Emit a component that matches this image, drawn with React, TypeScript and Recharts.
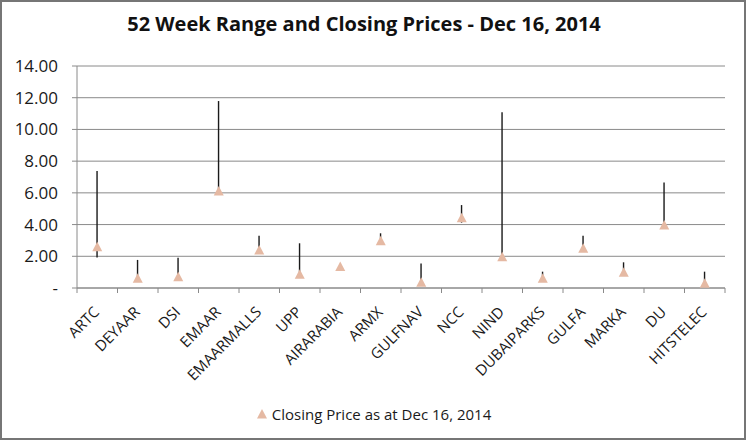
import React from "react";
import { ComposedChart, Bar, Line, XAxis, YAxis, CartesianGrid, Legend, Customized } from "recharts";

const TICKERS = [
  "ARTC", "DEYAAR", "DSI", "EMAAR", "EMAARMALLS", "UPP", "AIRARABIA", "ARMX",
  "GULFNAV", "NCC", "NIND", "DUBAIPARKS", "GULFA", "MARKA", "DU", "HITSTELEC",
];
const LOW_52W = [1.93, 0.58, 0.68, 6.05, 2.35, 0.82, 1.3, 2.92, 0.33, 4.12, 1.93, 0.58, 2.45, 0.95, 3.9, 0.28];
const HIGH_52W = [7.38, 1.77, 1.91, 11.79, 3.3, 2.82, 1.42, 3.45, 1.55, 5.23, 11.08, 1.03, 3.3, 1.62, 6.66, 1.03];
const CLOSE = [2.6, 0.61, 0.71, 6.12, 2.4, 0.86, 1.35, 2.98, 0.36, 4.43, 1.97, 0.61, 2.5, 0.99, 3.97, 0.3];
const Y_TICKS = [0, 2, 4, 6, 8, 10, 12, 14];

const TITLE = "52 Week Range and Closing Prices - Dec 16, 2014";
const SERIES_NAME = "Closing Price as at Dec 16, 2014";

const W = 746;
const H = 440;
const PLOT_LEFT = 77;
const PLOT_RIGHT = 21;
const FONT = "'Open Sans', sans-serif";
const MARKER = "#e5b9a3";
const GRID = "#8a8a8a";

const data = TICKERS.map((name, i) => ({
  name,
  range: [LOW_52W[i], HIGH_52W[i]],
  close: CLOSE[i],
}));

const halfBand = (W - PLOT_LEFT - PLOT_RIGHT) / TICKERS.length / 2;

const fmtY = (v: number) => (v === 0 ? "-" : v.toFixed(2));

function RangeLine(props: any) {
  const { x, y, width, height } = props;
  const cx = x + width / 2;
  const y1 = Math.min(y, y + height);
  const y2 = Math.max(y, y + height);
  return <line x1={cx} x2={cx} y1={y1} y2={y2} stroke="#1a1a1a" strokeWidth={1.4} />;
}

function Triangle(props: any) {
  const { cx, cy } = props;
  if (cx == null || cy == null) return null;
  return (
    <polygon
      points={`${cx},${cy - 5} ${cx - 5},${cy + 4.5} ${cx + 5},${cy + 4.5}`}
      fill={MARKER}
    />
  );
}

function XTick(props: any) {
  const { x, y, payload, index } = props;
  const last = index === TICKERS.length - 1;
  const tx = x + 3;
  const ty = y + 17;
  return (
    <g>
      <line x1={x - halfBand} x2={x - halfBand} y1={y - 8} y2={y - 3} stroke={GRID} />
      {last && <line x1={x + halfBand} x2={x + halfBand} y1={y - 8} y2={y - 3} stroke={GRID} />}
      <text
        x={tx}
        y={ty}
        textAnchor="end"
        fontSize={15}
        fontFamily={FONT}
        fill="#1a1a1a"
        transform={`rotate(-45, ${tx}, ${ty})`}
      >
        {payload.value}
      </text>
    </g>
  );
}

function LegendBox() {
  return (
    <div style={{ height: 52, display: "flex", alignItems: "center", justifyContent: "center", fontFamily: FONT, fontSize: 15, color: "#1a1a1a", paddingLeft: 22 }}>
      <svg width={14} height={12} style={{ marginRight: 2 }}>
        <polygon points="6,1 1,10.5 11,10.5" fill={MARKER} />
      </svg>
      <span>{SERIES_NAME}</span>
    </div>
  );
}

export default function App() {
  return (
    <div style={{ position: "absolute", left: 0, top: 0, width: W, height: H, background: "#fff" }}>
      <ComposedChart width={W} height={H} data={data} margin={{ top: 66, right: PLOT_RIGHT, left: 0, bottom: 0 }}>
        <CartesianGrid vertical={false} stroke={GRID} />
        <XAxis
          dataKey="name"
          height={100}
          interval={0}
          stroke={GRID}
          tickLine={false}
          tick={<XTick />}
        />
        <YAxis
          width={PLOT_LEFT}
          domain={[0, 14]}
          ticks={Y_TICKS}
          tickFormatter={fmtY}
          stroke={GRID}
          tickSize={5}
          tickMargin={14}
          tick={{ fill: "#1a1a1a", fontSize: 17, fontFamily: FONT }}
        />
        <Bar dataKey="range" shape={<RangeLine />} legendType="none" isAnimationActive={false} />
        <Line
          dataKey="close"
          name={SERIES_NAME}
          stroke="none"
          dot={<Triangle />}
          activeDot={false}
          legendType="triangle"
          isAnimationActive={false}
        />
        <Legend verticalAlign="bottom" content={() => <LegendBox />} />
        <Customized
          component={() => (
            <text x={364} y={31} textAnchor="middle" fontSize={20} fontWeight="bold" fontFamily={FONT} fill="#111">
              {TITLE}
            </text>
          )}
        />
      </ComposedChart>
      <div
        style={{
          position: "absolute", left: 0, top: 0, width: W, height: H,
          boxSizing: "border-box", border: "2px solid #767676", pointerEvents: "none",
        }}
      />
    </div>
  );
}
